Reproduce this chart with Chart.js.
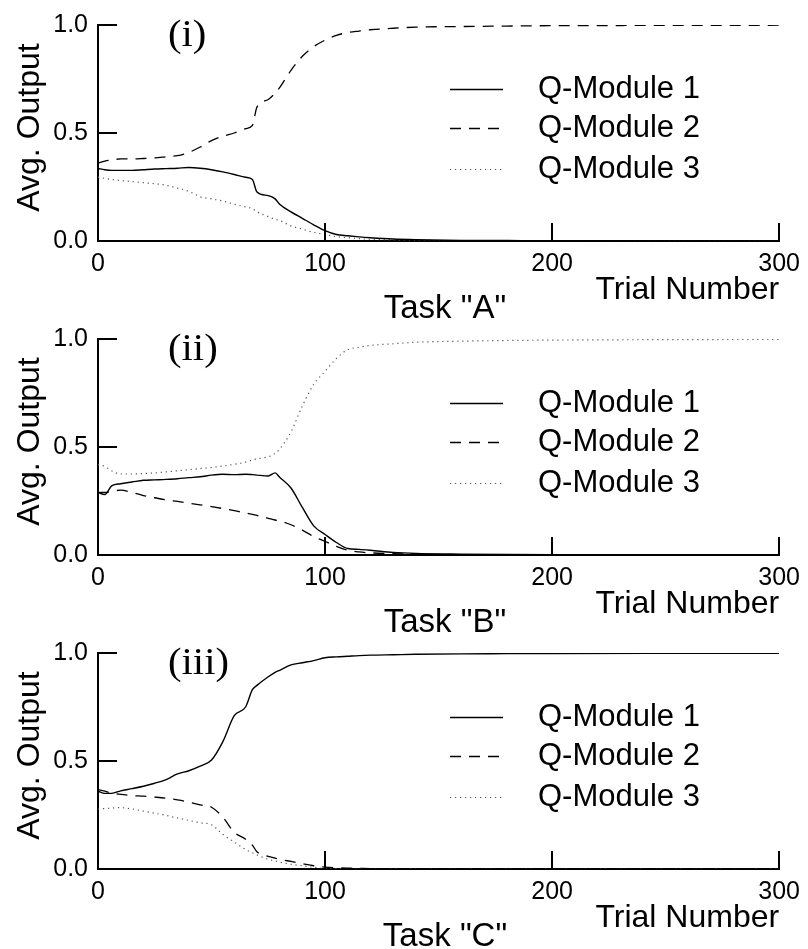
<!DOCTYPE html>
<html>
<head>
<meta charset="utf-8">
<script src="https://cdn.jsdelivr.net/npm/chart.js@4.4.1/dist/chart.umd.min.js"></script>
<style>
html, body { margin:0; padding:0; background:#fff; overflow:hidden; }
canvas { position:absolute; left:0; }
</style>
</head>
<body>
<canvas id="panel1" width="808" height="320" style="top:0px"></canvas>
<canvas id="panel2" width="808" height="320" style="top:314px"></canvas>
<canvas id="panel3" width="808" height="320" style="top:628px"></canvas>
<script>
const trials = [0,3,6,10,15,20,25,30,35,40,45,50,55,60,65,68,70,75,78,80,85,90,95,100,105,110,115,120,130,140,160,180,200,250,300];

const xTicks = [0, 100, 200, 300];
const yTicks = [0, 0.5, 1];
const moduleNames = ['Q-Module 1', 'Q-Module 2', 'Q-Module 3'];

// Task "A"
const taskA_q1 = [0.336,0.33,0.327,0.327,0.327,0.33,0.333,0.335,0.337,0.34,0.337,0.33,0.32,0.308,0.295,0.285,0.227,0.21,0.195,0.17,0.135,0.105,0.075,0.048,0.03,0.024,0.019,0.015,0.009,0.006,0.003,0.002,0.001,0,0];
const taskA_q2 = [0.36,0.37,0.375,0.38,0.38,0.382,0.385,0.39,0.395,0.41,0.435,0.465,0.485,0.5,0.52,0.535,0.62,0.655,0.685,0.71,0.79,0.855,0.9,0.93,0.952,0.965,0.972,0.978,0.985,0.99,0.993,0.995,0.997,0.998,0.999];
const taskA_q3 = [0.296,0.29,0.285,0.28,0.275,0.27,0.265,0.258,0.245,0.23,0.205,0.195,0.185,0.17,0.158,0.15,0.135,0.113,0.1,0.095,0.07,0.055,0.04,0.03,0.02,0.015,0.011,0.008,0.005,0.003,0.002,0.001,0,0,0];

// Task "B"
const taskB_q1 = [0.29,0.28,0.32,0.33,0.338,0.346,0.348,0.35,0.353,0.358,0.362,0.37,0.374,0.372,0.374,0.372,0.37,0.366,0.38,0.36,0.31,0.22,0.135,0.095,0.058,0.03,0.026,0.022,0.012,0.007,0.004,0.002,0.001,0,0];
const taskB_q2 = [0.29,0.29,0.295,0.3,0.29,0.275,0.265,0.255,0.248,0.24,0.232,0.224,0.215,0.205,0.195,0.188,0.183,0.17,0.162,0.158,0.14,0.115,0.085,0.063,0.04,0.022,0.014,0.01,0.006,0.004,0.002,0.001,0,0,0];
const taskB_q3 = [0.42,0.41,0.39,0.375,0.375,0.377,0.38,0.385,0.39,0.395,0.4,0.405,0.412,0.42,0.43,0.44,0.445,0.455,0.47,0.49,0.57,0.69,0.79,0.85,0.91,0.95,0.962,0.97,0.978,0.985,0.99,0.993,0.995,0.997,0.998];

// Task "C"
const taskC_q1 = [0.36,0.35,0.35,0.362,0.372,0.383,0.397,0.414,0.44,0.455,0.476,0.505,0.59,0.71,0.75,0.83,0.85,0.89,0.91,0.92,0.945,0.955,0.965,0.978,0.982,0.985,0.988,0.99,0.992,0.994,0.996,0.997,0.998,0.999,0.999];
const taskC_q2 = [0.368,0.36,0.352,0.345,0.34,0.337,0.333,0.328,0.32,0.31,0.297,0.286,0.24,0.17,0.138,0.11,0.08,0.058,0.05,0.045,0.035,0.025,0.015,0.009,0.006,0.004,0.003,0.002,0.001,0,0,0,0,0,0];
const taskC_q3 = [0.277,0.28,0.282,0.284,0.278,0.268,0.258,0.248,0.236,0.225,0.214,0.205,0.16,0.125,0.09,0.075,0.065,0.045,0.037,0.032,0.022,0.015,0.008,0.003,0.002,0.001,0,0,0,0,0,0,0,0,0];

// legend rows, px above the x axis
const legendOffsets = [152, 113, 72];

const panelDecor = {
  id: 'panelDecor',
  afterDraw(chart, args, opts) {
    const ctx = chart.ctx, a = chart.chartArea;
    const xs = chart.scales.x, ys = chart.scales.y;
    ctx.save();
    // inward tick marks
    ctx.strokeStyle = '#000';
    ctx.lineWidth = 2;
    ctx.beginPath();
    yTicks.forEach(v => {
      const p = Math.round(ys.getPixelForValue(v));
      ctx.moveTo(a.left, p); ctx.lineTo(a.left + 19, p);
    });
    xTicks.forEach(v => {
      const p = Math.round(xs.getPixelForValue(v));
      ctx.moveTo(p, a.bottom); ctx.lineTo(p, a.bottom - 18);
    });
    ctx.stroke();

    ctx.fillStyle = '#000';

    // y title
    ctx.save();
    ctx.translate(30, 127.5);
    ctx.rotate(-Math.PI / 2);
    ctx.textAlign = 'center';
    ctx.textBaseline = 'middle';
    ctx.font = '32px "Liberation Sans"';
    ctx.fillText('Avg. Output', 0, 0);
    ctx.restore();

    // panel label
    ctx.save();
    ctx.translate(168, 46);
    ctx.scale(1.1, 1);
    ctx.textAlign = 'left';
    ctx.textBaseline = 'alphabetic';
    ctx.font = '37px "Liberation Serif"';
    ctx.fillText(opts.label, 0, 0);
    ctx.restore();

    ctx.textAlign = 'center';
    ctx.textBaseline = 'alphabetic';
    ctx.font = '33px "Liberation Sans"';
    ctx.fillText(opts.task, 445, 318);

    // legend
    ctx.textAlign = 'left';
    ctx.textBaseline = 'middle';
    ctx.font = '31px "Liberation Sans"';
    chart.data.datasets.forEach((ds, i) => {
      const y = Math.round(a.bottom - legendOffsets[i]) + 0.5;
      ctx.setLineDash(ds.borderDash || []);
      ctx.lineWidth = ds.borderWidth;
      ctx.strokeStyle = ds.borderColor;
      ctx.beginPath();
      ctx.moveTo(450, y); ctx.lineTo(503, y);
      ctx.stroke();
      ctx.setLineDash([]);
      ctx.fillStyle = '#000';
      ctx.fillText(ds.label, 538, y);
    });
    ctx.restore();
  }
};

function pts(vals) {
  return trials.map((t, i) => ({ x: t, y: vals[i] }));
}

function makePanel(id, label, task, q1, q2, q3) {
  new Chart(document.getElementById(id), {
    type: 'line',
    data: {
      datasets: [
        { label: moduleNames[0], data: pts(q1), borderColor: '#000', borderWidth: 1.4, borderDash: [] },
        { label: moduleNames[1], data: pts(q2), borderColor: '#000', borderWidth: 1.3, borderDash: [11, 8] },
        { label: moduleNames[2], data: pts(q3), borderColor: '#555', borderWidth: 1.2, borderDash: [1.2, 3.8] }
      ]
    },
    options: {
      responsive: false,
      animation: false,
      devicePixelRatio: 1,
      elements: { point: { radius: 0 }, line: { cubicInterpolationMode: 'monotone', fill: false } },
      layout: { padding: { top: 24, right: 26, left: 0, bottom: 0 } },
      plugins: {
        legend: { display: false },
        tooltip: { enabled: false },
        panelDecor: { label: label, task: task }
      },
      scales: {
        x: {
          type: 'linear', min: 0, max: 300,
          afterFit: s => { s.height = 79; },
          grid: { display: false, drawTicks: false },
          border: { display: true, width: 2, color: '#000' },
          ticks: { stepSize: 100, padding: 8, color: '#000', font: { family: 'Liberation Sans', size: 25 } },
          title: { display: true, text: 'Trial Number', align: 'end', color: '#000',
                   font: { family: 'Liberation Sans', size: 32 }, padding: { top: 0, bottom: 11 } }
        },
        y: {
          min: 0, max: 1,
          afterFit: s => { s.width = 98; },
          grid: { display: false, drawTicks: false },
          border: { display: true, width: 2, color: '#000' },
          ticks: { stepSize: 0.5, padding: 10, color: '#000', font: { family: 'Liberation Sans', size: 25 },
                   callback: v => v.toFixed(1) },
          title: { display: false }
        }
      }
    },
    plugins: [panelDecor]
  });
}

makePanel('panel1', '(i)', 'Task "A"', taskA_q1, taskA_q2, taskA_q3);
makePanel('panel2', '(ii)', 'Task "B"', taskB_q1, taskB_q2, taskB_q3);
makePanel('panel3', '(iii)', 'Task "C"', taskC_q1, taskC_q2, taskC_q3);
</script>
</body>
</html>
